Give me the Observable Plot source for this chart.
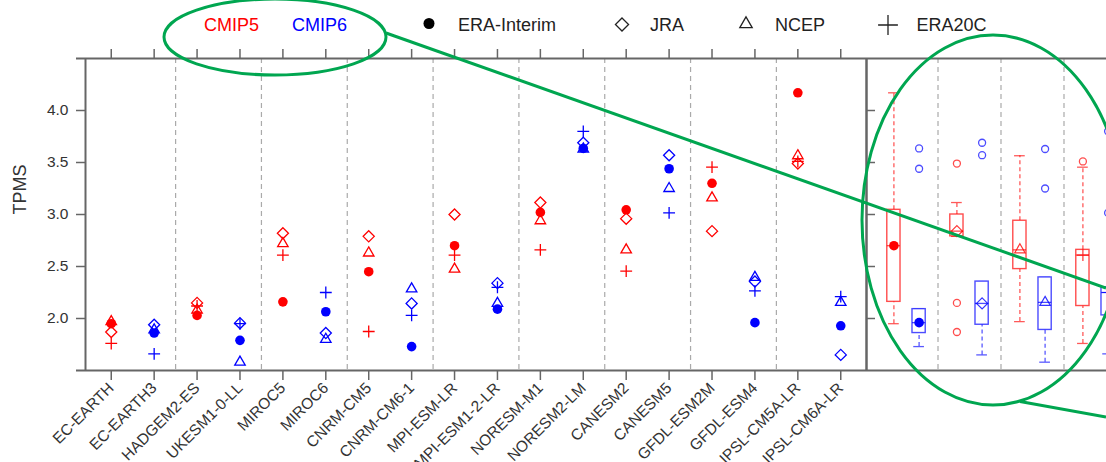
<!DOCTYPE html>
<html><head><meta charset="utf-8">
<script src="https://cdn.jsdelivr.net/npm/d3@7"></script>
<script src="https://cdn.jsdelivr.net/npm/@observablehq/plot@0.6"></script>
<style>
body{margin:0;background:#fff;font-family:"Liberation Sans",Arial,sans-serif;}
#wrap{position:relative;width:1106px;height:462px;overflow:hidden;background:#fff;}
#legend{position:absolute;left:0;top:0;}
#main{position:absolute;left:0;top:48px;width:870px;}
#side{position:absolute;left:862px;top:48px;width:300px;}
#main svg,#side svg{max-width:none !important;}
#annot{position:absolute;left:0;top:0;pointer-events:none;}
</style></head><body>
<div id="wrap"><svg id="legend" width="1106" height="48"></svg><div id="main"></div><div id="side"></div><svg id="annot" width="1106" height="462"></svg></div>
<script>
// ---- data ----
const models = ["EC-EARTH","EC-EARTH3","HADGEM2-ES","UKESM1-0-LL","MIROC5","MIROC6","CNRM-CM5","CNRM-CM6-1","MPI-ESM-LR","MPI-ESM1-2-LR","NORESM-M1","NORESM2-LM","CANESM2","CANESM5","GFDL-ESM2M","GFDL-ESM4","IPSL-CM5A-LR","IPSL-CM6A-LR"];
const generation = ["CMIP5","CMIP6","CMIP5","CMIP6","CMIP5","CMIP6","CMIP5","CMIP6","CMIP5","CMIP6","CMIP5","CMIP6","CMIP5","CMIP6","CMIP5","CMIP6","CMIP5","CMIP6"];
const eraInterim = [1.95,1.86,2.03,1.79,2.16,2.065,2.45,1.73,2.70,2.09,3.02,3.635,3.045,3.44,3.30,1.96,4.17,1.93];
const jra        = [1.87,1.94,2.15,1.955,2.82,1.86,2.79,2.145,3.00,2.34,3.115,3.69,2.96,3.57,2.84,2.355,3.49,1.65];
const ncep       = [1.97,1.89,2.08,1.58,2.72,1.80,2.63,2.285,2.475,2.145,2.94,3.63,2.66,3.25,3.16,2.395,3.565,2.155];
const era20c     = [1.76,1.66,2.12,1.95,2.61,2.25,1.875,2.03,2.61,2.30,2.66,3.80,2.455,3.015,3.455,2.265,3.51,2.21];
const reanalyses = ["ERA-Interim","JRA","NCEP","ERA20C"];
const generations = ["CMIP5","CMIP6"];
const yTicks = [2.0,2.5,3.0,3.5,4.0];
const yDomain = [1.5,4.5];
const yLabel = "TPMS";

// ---- styles ----
const genColors = ["#ff0000","#0000ff"];
const symbols = ["circle","diamond2","triangle2","plus"];
const symbolR = [4.8,5,5,3.9];
const FONT = "'Liberation Sans', Arial, sans-serif";
const axisColor = "#666";
const textColor = "#333";

const series = [eraInterim, jra, ncep, era20c];
const rows = [];
series.forEach((vals, j) => vals.forEach((v, i) => rows.push({idx: i, model: models[i], gen: generation[i], rean: reanalyses[j], value: v})));

const separators = d3.range(1, models.length - 1, 2).map(i => i + 0.5);
const xDomain = [-0.6, models.length - 1 + 0.6];

const pointMarks = reanalyses.map((r, j) => {
  const d = rows.filter(o => o.rean === r);
  if (j === 0) return Plot.dot(d, {x: "idx", y: "value", fill: "gen", r: symbolR[j]});
  return Plot.dot(d, {x: "idx", y: "value", symbol: () => symbols[j], stroke: "gen", r: symbolR[j], strokeWidth: 1.3, fill: "none"});
});

const main = Plot.plot({
  width: 870, height: 414,
  marginLeft: 85, marginRight: 4, marginTop: 10, marginBottom: 92,
  style: {fontFamily: FONT, color: textColor, background: "transparent"},
  x: {type: "linear", domain: xDomain, axis: null},
  y: {domain: yDomain, axis: null},
  color: {domain: generations, range: genColors},
  symbol: {type: "identity"},
  marks: [
    Plot.ruleX(separators, {stroke: "#aaa", strokeDasharray: "5,4", strokeWidth: 1.2}),
    Plot.ruleX([xDomain[0], xDomain[1]], {stroke: axisColor, strokeWidth: 2}),
    Plot.ruleY(yDomain, {stroke: axisColor, strokeWidth: 2, insetLeft: -9}),
    Plot.axisY({ticks: yTicks, tickFormat: ".1f", tickSize: 9, tickPadding: 8, fontSize: 15.5, stroke: axisColor, strokeWidth: 1.5, label: null}),
    Plot.text([yLabel], {frameAnchor: "left", dx: -65, rotate: -90, fontSize: 18, fill: textColor}),
    Plot.axisX({anchor: "top", ticks: d3.range(models.length), tickSize: 10, tickFormat: () => "", label: null, stroke: axisColor, strokeWidth: 1.5}),
    Plot.axisX({anchor: "bottom", ticks: d3.range(models.length), tickSize: 10, tickPadding: 5, tickRotate: -45, tickFormat: i => models[i], fontSize: 15.5, label: null, stroke: axisColor, strokeWidth: 1.5}),
    ...pointMarks
  ]
});
document.getElementById("main").append(main);

// ---- box plot stats derived from the points ----
const boxes = [];
reanalyses.forEach((r, j) => generations.forEach((g, k) => {
  const v = rows.filter(o => o.rean === r && o.gen === g).map(o => o.value).sort(d3.ascending);
  const q1 = d3.quantile(v, 0.25), med = d3.quantile(v, 0.5), q3 = d3.quantile(v, 0.75);
  const iqr = q3 - q1;
  const inside = v.filter(x => x >= q1 - 1.5 * iqr && x <= q3 + 1.5 * iqr);
  boxes.push({rean: r, j, gen: g, pos: j + 0.5 + (k === 0 ? -0.2 : 0.2), q1, med, q3,
    lo: d3.min(inside), hi: d3.max(inside), outliers: v.filter(x => x < q1 - 1.5 * iqr || x > q3 + 1.5 * iqr)});
}));
const outliers = boxes.flatMap(b => b.outliers.map(o => ({pos: b.pos, gen: b.gen, value: o})));
const sideDomain = [-0.135, reanalyses.length + 0.135];
const boxHalf = 0.105, capHalf = 0.085;

const medianMarks = reanalyses.map((r, j) => {
  const d = boxes.filter(b => b.rean === r);
  if (j === 0) return Plot.dot(d, {x: "pos", y: "med", fill: "gen", r: symbolR[j]});
  return Plot.dot(d, {x: "pos", y: "med", symbol: () => symbols[j], stroke: "gen", r: symbolR[j], strokeWidth: 1.2, strokeOpacity: 0.8, fill: "none"});
});

const side = Plot.plot({
  width: 300, height: 414,
  marginLeft: 4, marginRight: 27, marginTop: 10, marginBottom: 92,
  style: {fontFamily: FONT, color: textColor, background: "transparent", overflow: "visible"},
  x: {type: "linear", domain: sideDomain, axis: null},
  y: {domain: yDomain, axis: null},
  color: {domain: generations, range: genColors},
  symbol: {type: "identity"},
  marks: [
    Plot.ruleX(d3.range(1, reanalyses.length), {stroke: "#aaa", strokeDasharray: "5,4", strokeWidth: 1.2}),
    Plot.ruleY(yDomain, {stroke: axisColor, strokeWidth: 2}),
    Plot.ruleX([sideDomain[0]], {stroke: axisColor, strokeWidth: 2}),
    Plot.axisY({ticks: yTicks, tickSize: -9, tickFormat: () => "", label: null, stroke: axisColor, strokeWidth: 1.5}),
    Plot.ruleX(boxes, {x: "pos", y1: "q3", y2: "hi", stroke: "gen", strokeOpacity: 0.65, strokeDasharray: "4,3", strokeWidth: 1.3}),
    Plot.ruleX(boxes, {x: "pos", y1: "lo", y2: "q1", stroke: "gen", strokeOpacity: 0.65, strokeDasharray: "4,3", strokeWidth: 1.3}),
    Plot.ruleY(boxes, {y: "hi", x1: d => d.pos - capHalf, x2: d => d.pos + capHalf, stroke: "gen", strokeOpacity: 0.65, strokeWidth: 1.3}),
    Plot.ruleY(boxes, {y: "lo", x1: d => d.pos - capHalf, x2: d => d.pos + capHalf, stroke: "gen", strokeOpacity: 0.65, strokeWidth: 1.3}),
    Plot.rect(boxes, {x1: d => d.pos - boxHalf, x2: d => d.pos + boxHalf, y1: "q1", y2: "q3", stroke: "gen", strokeOpacity: 0.7, fill: "white", strokeWidth: 1.4}),
    Plot.ruleY(boxes, {y: "med", x1: d => d.pos - boxHalf, x2: d => d.pos + boxHalf, stroke: "gen", strokeOpacity: 0.7, strokeWidth: 1.3}),
    Plot.dot(outliers, {x: "pos", y: "value", stroke: "gen", strokeOpacity: 0.7, r: 3.5, strokeWidth: 1.3, fill: "none"}),
    ...medianMarks
  ]
});
document.getElementById("side").append(side);

// ---- legend ----
const leg = d3.select("#legend").style("font-family", FONT);
const genLegend = [{t: "CMIP5", x: 204}, {t: "CMIP6", x: 292}];
genLegend.forEach((g, i) => leg.append("text").attr("x", g.x).attr("y", 31).attr("font-size", 18).attr("fill", genColors[i]).text(g.t));
const legItems = [{sx: 429, sy: 23.5, tx: 458}, {sx: 622, sy: 24.5, tx: 650}, {sx: 746, sy: 24, tx: 775}, {sx: 888, sy: 25, tx: 916.5}];
const d3sym = [d3.symbolCircle, d3.symbolDiamond2, d3.symbolTriangle2, d3.symbolPlus];
const legSize = [95, 110, 110, 130];
legItems.forEach((it, j) => {
  const p = leg.append("path").attr("transform", `translate(${it.sx},${it.sy})`).attr("d", d3.symbol(d3sym[j], legSize[j])());
  if (j === 0) p.attr("fill", "#000"); else p.attr("fill", "none").attr("stroke", "#222").attr("stroke-width", 1.3);
  leg.append("text").attr("x", it.tx).attr("y", 31).attr("font-size", 18).attr("fill", "#222").text(reanalyses[j]);
});

// ---- green annotation overlay ----
const annotations = [
  {type: "ellipse", cx: 275, cy: 37, rx: 111, ry: 38},
  {type: "line", x1: 386, y1: 33, x2: 1106, y2: 288},
  {type: "ellipse", cx: 993, cy: 220, rx: 131, ry: 185},
  {type: "line", x1: 1020, y1: 401.5, x2: 1106, y2: 417}
];
const an = d3.select("#annot");
annotations.forEach(a => {
  const el = an.append(a.type).attr("fill", "none").attr("stroke", "#00a650").attr("stroke-width", 3);
  Object.keys(a).filter(k => k !== "type").forEach(k => el.attr(k, a[k]));
});
</script>
</body></html>
